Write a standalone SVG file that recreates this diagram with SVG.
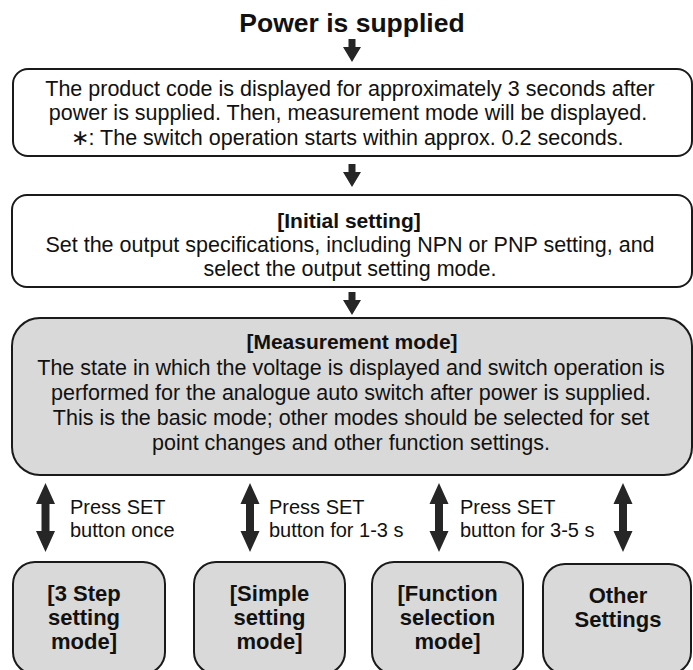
<svg xmlns="http://www.w3.org/2000/svg" xmlns:xlink="http://www.w3.org/1999/xlink" width="693" height="670" viewBox="0 0 693 670">
<style>
  .box { fill: #ffffff; stroke: #1a1a1a; stroke-width: 2; }
  .gbox { fill: #d9d9d9; stroke: #1a1a1a; stroke-width: 2; }
  .t { font-family: "Liberation Sans", Arial, sans-serif; font-size: 21.5px; fill: #111111; text-anchor: middle; }
  .h { font-family: "Liberation Sans", Arial, sans-serif; font-size: 21px; font-weight: bold; fill: #111111; text-anchor: middle; }
  .b { font-family: "Liberation Sans", Arial, sans-serif; font-size: 22px; font-weight: bold; fill: #111111; text-anchor: middle; }
  .title { font-family: "Liberation Sans", Arial, sans-serif; font-size: 26.5px; font-weight: bold; fill: #111111; text-anchor: middle; }
  .lbl { font-family: "Liberation Sans", Arial, sans-serif; font-size: 20px; fill: #111111; }
  .arr { fill: #262626; }
</style>
<defs>
  <path id="down" d="M -3.5 0 L 3.5 0 L 3.5 8 L 9 8 L 0 23 L -9 8 L -3.5 8 Z"/>
  <path id="dbl" d="M 0 0 L 9.5 21 L 4 21 L 4 48 L 9.5 48 L 0 69 L -9.5 48 L -4 48 L -4 21 L -9.5 21 Z"/>
</defs>

<g id="title">
  <text class="title" x="352" y="32">Power is supplied</text>
</g>

<g id="connectors">
  <use xlink:href="#down" class="arr" x="352" y="39"/>
  <use xlink:href="#down" class="arr" x="352" y="164"/>
  <use xlink:href="#down" class="arr" x="352" y="292"/>
  <use xlink:href="#dbl" class="arr" x="45.5" y="483"/>
  <use xlink:href="#dbl" class="arr" x="250" y="483"/>
  <use xlink:href="#dbl" class="arr" x="439" y="483"/>
  <use xlink:href="#dbl" class="arr" x="623" y="483"/>
  <text class="lbl" x="70" y="514">Press SET</text>
  <text class="lbl" x="70" y="537">button once</text>
  <text class="lbl" x="269" y="514">Press SET</text>
  <text class="lbl" x="269" y="537">button for 1-3 s</text>
  <text class="lbl" x="460" y="514">Press SET</text>
  <text class="lbl" x="460" y="537">button for 3-5 s</text>
</g>

<g id="node-startup">
  <rect class="box" x="13" y="69" width="679" height="87" rx="15"/>
  <text class="t" x="350" y="96">The product code is displayed for approximately 3 seconds after</text>
  <text class="t" x="348" y="120">power is supplied. Then, measurement mode will be displayed.</text>
  <text class="t" x="347" y="145">∗: The switch operation starts within approx. 0.2 seconds.</text>
</g>

<g id="node-initial">
  <rect class="box" x="12" y="195" width="680" height="92" rx="15"/>
  <text class="h" x="349" y="228">[Initial setting]</text>
  <text class="t" x="350" y="252">Set the output specifications, including NPN or PNP setting, and</text>
  <text class="t" x="350" y="276">select the output setting mode.</text>
</g>

<g id="node-measurement">
  <rect class="gbox" x="12" y="318" width="680" height="157" rx="28"/>
  <text class="h" x="352" y="349">[Measurement mode]</text>
  <text class="t" x="351" y="375">The state in which the voltage is displayed and switch operation is</text>
  <text class="t" x="351" y="400">performed for the analogue auto switch after power is supplied.</text>
  <text class="t" x="351" y="425">This is the basic mode; other modes should be selected for set</text>
  <text class="t" x="351" y="450">point changes and other function settings.</text>
</g>

<g id="node-3step">
  <rect class="gbox" x="13" y="562" width="152" height="112" rx="22"/>
  <text class="b" x="84" y="601">[3 Step</text>
  <text class="b" x="84" y="625">setting</text>
  <text class="b" x="84" y="649">mode]</text>
</g>

<g id="node-simple">
  <rect class="gbox" x="194" y="562" width="151" height="112" rx="22"/>
  <text class="b" x="269.5" y="601">[Simple</text>
  <text class="b" x="269.5" y="625">setting</text>
  <text class="b" x="269.5" y="649">mode]</text>
</g>

<g id="node-function">
  <rect class="gbox" x="372" y="562" width="151" height="112" rx="22"/>
  <text class="b" x="447.5" y="601">[Function</text>
  <text class="b" x="447.5" y="625">selection</text>
  <text class="b" x="447.5" y="649">mode]</text>
</g>

<g id="node-other">
  <rect class="gbox" x="543" y="564" width="148" height="110" rx="22"/>
  <text class="b" x="618" y="603">Other</text>
  <text class="b" x="618" y="627">Settings</text>
</g>
</svg>
